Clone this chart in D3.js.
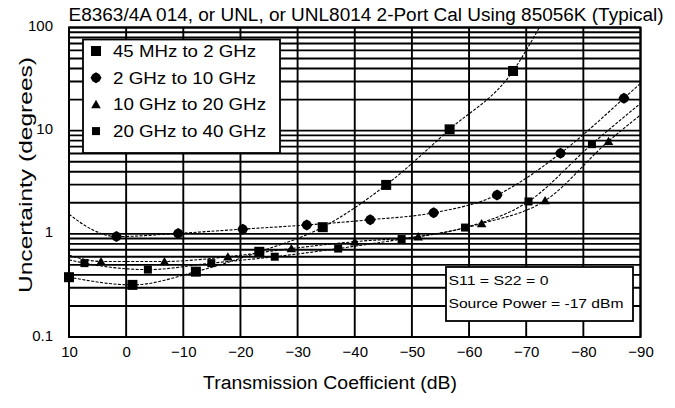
<!DOCTYPE html>
<html><head><meta charset="utf-8">
<script src="https://cdn.jsdelivr.net/npm/d3@7"></script>
<style>body{margin:0;background:#fff}svg{display:block;font-family:"Liberation Sans",Arial,sans-serif}</style>
</head><body><svg id="c" width="675" height="408"></svg>
<script>
const title = "E8363/4A 014, or UNL, or UNL8014 2-Port Cal Using 85056K (Typical)";
const xLabel = "Transmission Coefficient (dB)";
const yLabel = "Uncertainty (degrees)";
const xTicks = [10,0,-10,-20,-30,-40,-50,-60,-70,-80,-90];
const yTicks = [0.1,1,10,100];
const yTickLabels = ["0.1","1","10","100"];
const legendLabels = ["45 MHz to 2 GHz","2 GHz to 10 GHz","10 GHz to 20 GHz","20 GHz to 40 GHz"];
const notes = ["S11 = S22 = 0","Source Power = -17 dBm"];

// 45 MHz to 2 GHz (large squares)
const b1dB   = [10,-1.1,-12.2,-23.3,-34.4,-45.5,-56.6,-67.7];
const b1Deg  = [0.38,0.32,0.43,0.67,1.16,2.98,10.3,37.9];
const b1Head = [];
const b1Tail = [[-72.3,100]];
// 2 GHz to 10 GHz (diamonds)
const b2dB   = [1.7,-9.1,-20.4,-31.6,-42.7,-53.8,-64.9,-76,-87.1];
const b2Deg  = [0.94,1.01,1.11,1.22,1.37,1.6,2.38,6.04,20.6];
const b2Head = [[10,1.55],[5.8,1.09]];
const b2Tail = [[-90,28.8]];
// 10 GHz to 20 GHz (triangles)
const b3dB   = [4.4,-6.7,-17.8,-28.9,-40,-51.1,-62.2,-73.3,-84.4];
const b3Deg  = [0.54,0.54,0.60,0.72,0.84,0.94,1.26,2.1,7.9];
const b3Head = [[10,0.62]];
const b3Tail = [[-90,14.2]];
// 20 GHz to 40 GHz (small squares)
const b4dB   = [7.3,-3.8,-14.9,-26,-37.1,-48.2,-59.3,-70.4,-81.5];
const b4Deg  = [0.52,0.45,0.52,0.60,0.72,0.89,1.15,2.06,7.4];
const b4Head = [[10,0.56]];
const b4Tail = [[-90,18.4]];

const series = [
  {dB:b1dB,deg:b1Deg,head:b1Head,tail:b1Tail,sym:"sqBig"},
  {dB:b2dB,deg:b2Deg,head:b2Head,tail:b2Tail,sym:"diamond"},
  {dB:b3dB,deg:b3Deg,head:b3Head,tail:b3Tail,sym:"tri"},
  {dB:b4dB,deg:b4Deg,head:b4Head,tail:b4Tail,sym:"sqSmall"}
];

const svg = d3.select("#c");
const x = d3.scaleLinear().domain([10,-90]).range([69,640.5]);
const y = d3.scaleLog().domain([0.1,100]).range([337,27.5]);
const X0 = x(10), X1 = x(-90), Y0 = y(0.1), Y1 = y(100);

// gridlines
const grid = svg.append("g").attr("stroke","#000").attr("stroke-width",1.9);
grid.selectAll("line.h").data(y.ticks()).join("line").attr("class","h")
  .attr("x1",X0).attr("x2",X1).attr("y1",d=>y(d)).attr("y2",d=>y(d));
grid.selectAll("line.v").data(xTicks).join("line").attr("class","v")
  .attr("x1",d=>x(d)).attr("x2",d=>x(d)).attr("y1",Y1).attr("y2",Y0);
svg.append("rect").attr("x",X0).attr("y",Y1).attr("width",X1-X0).attr("height",Y0-Y1)
  .attr("fill","none").attr("stroke","#000").attr("stroke-width",2);

// axes (labels only)
const xa = svg.append("g").attr("transform",`translate(0,${Y0})`)
  .call(d3.axisBottom(x).tickValues(xTicks).tickSize(0).tickPadding(9).tickFormat(d=>d3.format("d")(d)));
xa.select(".domain").remove();
xa.selectAll("text").attr("font-size",15).attr("font-family","Liberation Sans, Arial, sans-serif").attr("fill","#000");
const ya = svg.append("g").attr("transform",`translate(${X0},0)`)
  .call(d3.axisLeft(y).tickValues(yTicks).tickSize(0).tickPadding(16).tickFormat((d,i)=>yTickLabels[i]));
ya.select(".domain").remove();
ya.selectAll("text").attr("font-size",15).attr("font-family","Liberation Sans, Arial, sans-serif").attr("fill","#000").attr("dy","0.2em");

// curves
svg.append("clipPath").attr("id","clip").append("rect").attr("x",X0).attr("y",Y1).attr("width",X1-X0).attr("height",Y0-Y1);
const line = d3.line().x(d=>x(d[0])).y(d=>y(d[1])).curve(d3.curveMonotoneX);
const cg = svg.append("g").attr("clip-path","url(#clip)");
series.forEach(s=>{
  const pts = s.head.concat(s.dB.map((v,i)=>[v,s.deg[i]]), s.tail);
  cg.append("path").attr("d",line(pts)).attr("fill","none").attr("stroke","#000")
    .attr("stroke-width",1.1).attr("stroke-dasharray","3,1.5");
});

function drawSym(g, type, cx, cy){
  if(type==="sqBig") g.append("rect").attr("x",cx-5).attr("y",cy-5).attr("width",10).attr("height",10).attr("fill","#000");
  else if(type==="sqSmall") g.append("rect").attr("x",cx-4).attr("y",cy-4).attr("width",8).attr("height",8).attr("fill","#000");
  else if(type==="diamond") g.append("path").attr("transform",`translate(${cx},${cy})`)
    .attr("d","M0,-5.5L3.5,-3.5L5.5,0L3.5,3.5L0,5.5L-3.5,3.5L-5.5,0L-3.5,-3.5Z").attr("fill","#000");
  else if(type==="tri") g.append("path").attr("transform",`translate(${cx},${cy+1})`).attr("d",d3.symbol(d3.symbolTriangle,40)()).attr("fill","#000");
}
const mg = svg.append("g");
series.forEach(s=>{ s.dB.forEach((v,i)=>drawSym(mg,s.sym,x(v),y(s.deg[i]))); });

// legend
const lg = svg.append("g");
lg.append("rect").attr("x",83).attr("y",39.5).attr("width",197).attr("height",113.5)
  .attr("fill","#fff").attr("stroke","#000").attr("stroke-width",1.8);
const legW = [143,143,153,153];
const legSym = ["sqBig","diamond","tri","sqSmall"];
legendLabels.forEach((t,i)=>{
  const by = 57 + i*26.7;
  drawSym(lg, legSym[i], 96, by-6);
  lg.append("text").attr("x",113).attr("y",by).attr("font-size",16).attr("textLength",legW[i])
    .attr("lengthAdjust","spacingAndGlyphs").text(t);
});

// note box
const ng = svg.append("g");
ng.append("rect").attr("x",446).attr("y",267).attr("width",187).attr("height",54)
  .attr("fill","#fff").attr("stroke","#000").attr("stroke-width",1.8);
const noteW = [100,175];
notes.forEach((t,i)=>{
  ng.append("text").attr("x",448.5).attr("y",285 + i*23).attr("font-size",13).attr("textLength",noteW[i])
    .attr("lengthAdjust","spacingAndGlyphs").text(t);
});

// title & axis titles
svg.append("text").attr("x",68.5).attr("y",20.5).attr("font-size",18).attr("textLength",595)
  .attr("lengthAdjust","spacingAndGlyphs").text(title);
svg.append("text").attr("x",330).attr("y",389).attr("text-anchor","middle").attr("font-size",18)
  .attr("textLength",254).attr("lengthAdjust","spacingAndGlyphs").text(xLabel);
svg.append("text").attr("transform","translate(32,175) rotate(-90)").attr("text-anchor","middle")
  .attr("font-size",18).attr("textLength",236).attr("lengthAdjust","spacingAndGlyphs").text(yLabel);
</script></body></html>
